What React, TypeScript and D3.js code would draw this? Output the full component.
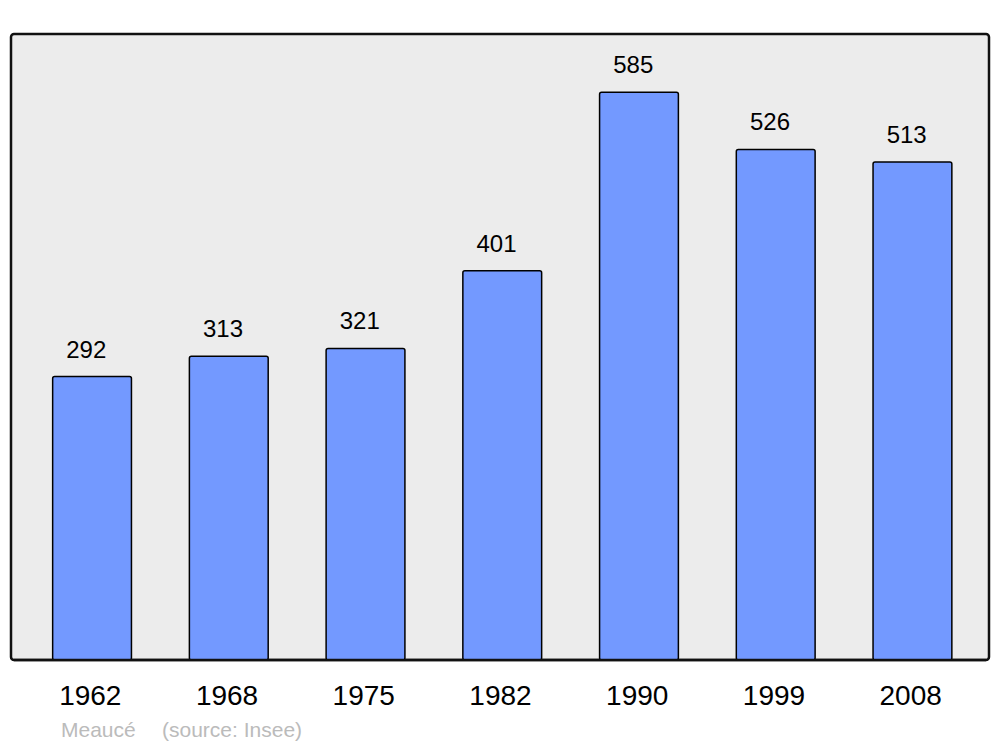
import React from 'react';
import * as d3 from 'd3';

const years = ['1962', '1968', '1975', '1982', '1990', '1999', '2008'];
const population = [292, 313, 321, 401, 585, 526, 513];
const placeName = 'Meaucé';
const sourceNote = '(source: Insee)';

const W = 1000;
const H = 747;
const panel = { left: 11, top: 34, right: 989, bottom: 660 };

export default function App() {
    const x = d3.scaleBand<string>()
        .domain(years)
        .range([13, 992])
        .paddingInner(0.42)
        .paddingOuter(0.29);

    const y = d3.scaleLinear()
        .domain([0, 645])
        .range([panel.bottom, panel.top]);

    const font = '"Liberation Sans", Arial, sans-serif';

    return (
        <svg width={W} height={H} style={{ position: 'absolute', left: 0, top: 0 }}>
            <rect x={0} y={0} width={W} height={H} fill="#ffffff" />
            {/* plot panel */}
            <rect
                x={panel.left}
                y={panel.top}
                width={panel.right - panel.left}
                height={panel.bottom - panel.top}
                rx={3}
                fill="#ececec"
                stroke="#111"
                strokeWidth={2.5}
            />
            {/* bars */}
            {years.map((yr, i) => {
                const v = population[i];
                const bx = x(yr)!;
                const by = y(v);
                return (
                    <g key={yr}>
                        <rect
                            x={bx}
                            y={by}
                            width={x.bandwidth() - 0.5}
                            height={panel.bottom - by}
                            rx={2}
                            fill="#7399ff"
                            stroke="#000"
                            strokeWidth={1.5}
                        />
                        <text
                            x={bx + x.bandwidth() / 2 - 6}
                            y={by - 19}
                            textAnchor="middle"
                            fontFamily={font}
                            fontSize={24}
                            fill="#000"
                        >
                            {v}
                        </text>
                        <text
                            x={bx + x.bandwidth() / 2 - 2}
                            y={705}
                            textAnchor="middle"
                            fontFamily={font}
                            fontSize={28}
                            fill="#000"
                        >
                            {yr}
                        </text>
                    </g>
                );
            })}
            {/* redraw panel bottom line over bars */}
            <line x1={panel.left + 3} x2={panel.right - 3} y1={panel.bottom} y2={panel.bottom} stroke="#111" strokeWidth={2.5} />
            <text x={61} y={737} fontFamily={font} fontSize={21} fill="#bbbbbb">{placeName}</text>
            <text x={162} y={737} fontFamily={font} fontSize={21} fill="#bbbbbb">{sourceNote}</text>
        </svg>
    );
}
